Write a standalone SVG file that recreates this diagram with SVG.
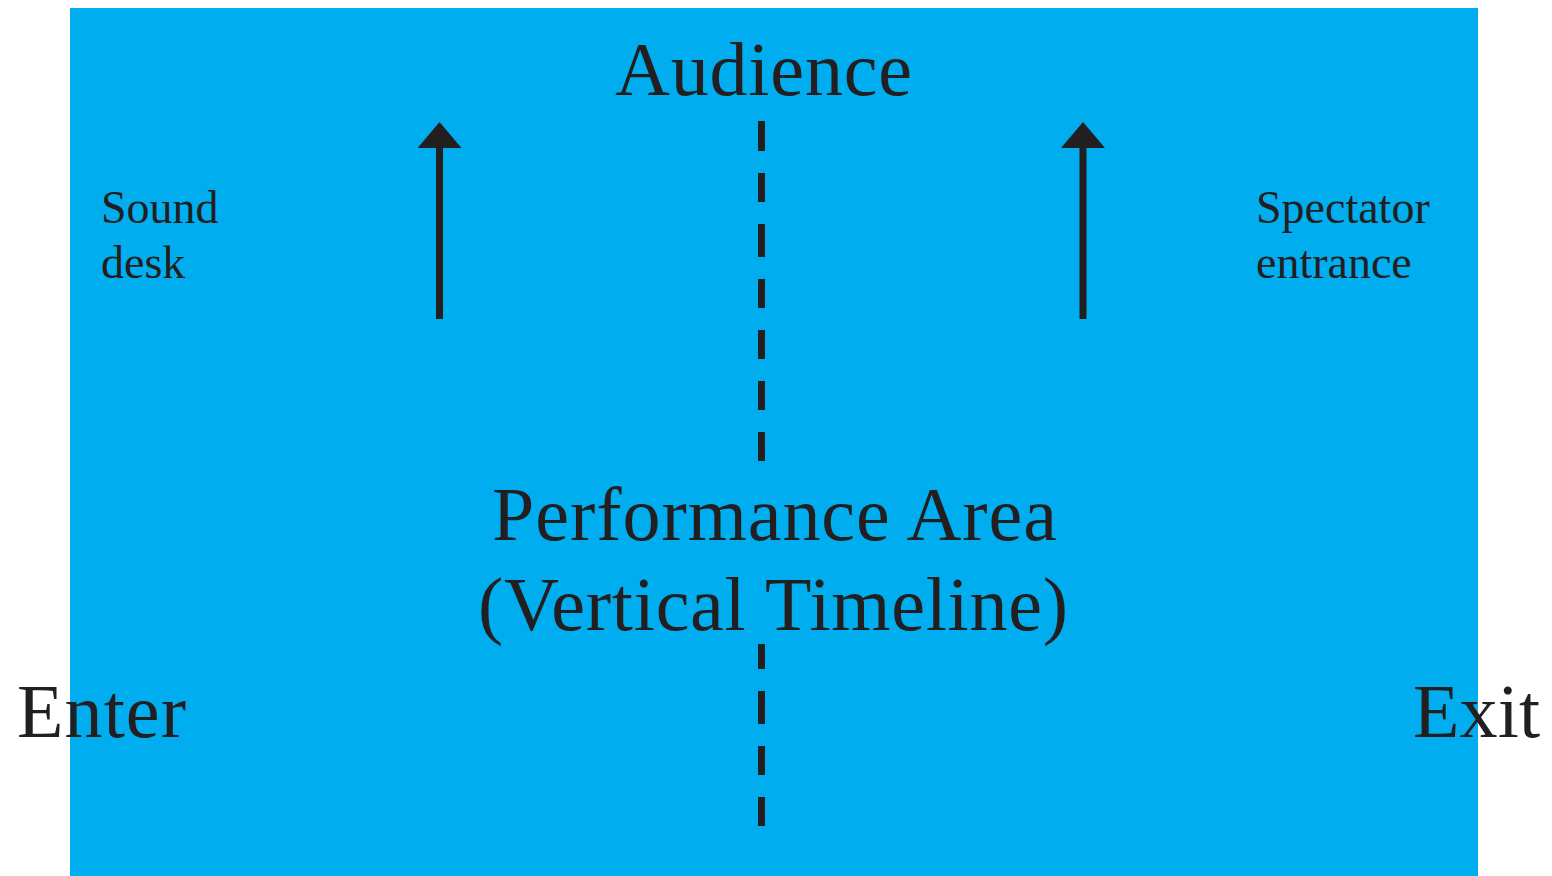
<svg xmlns="http://www.w3.org/2000/svg" width="1552" height="876" viewBox="0 0 1552 876">
<style>
.t{font-family:"Liberation Serif","Times New Roman",serif;fill:#231F20}
.big{font-size:76px}
.small{font-size:46px}
.conn{stroke:#231F20;fill:none;stroke-width:7}
</style>
<defs>
<marker id="ah" viewBox="0 0 26 44" refX="1" refY="22" markerWidth="26" markerHeight="44" markerUnits="userSpaceOnUse" orient="auto">
<path d="M0,0 L26,22 L0,44 z" fill="#231F20"/>
</marker>
</defs>
<rect x="0" y="0" width="1552" height="876" fill="#ffffff"/>
<rect id="stage" x="70" y="8" width="1408" height="868" fill="#00AEEF"/>
<g id="connectors">
<line class="conn" x1="439.5" y1="319" x2="439.5" y2="147" marker-end="url(#ah)"/>
<line class="conn" x1="1083" y1="319" x2="1083" y2="147" marker-end="url(#ah)"/>
<path class="conn" d="M761.5,121 V151 M761.5,173 V202 M761.5,224 V257 M761.5,279 V308 M761.5,330 V359 M761.5,381 V410 M761.5,432 V461 M761.5,644 V669 M761.5,691 V724 M761.5,746 V775 M761.5,797 V826"/>
</g>
<g id="audience"><text class="t big" x="615" y="95" textLength="297" lengthAdjust="spacing">Audience</text></g>
<g id="sound-desk"><text class="t small" x="101" y="223">Sound</text><text class="t small" x="101" y="278">desk</text></g>
<g id="spectator-entrance"><text class="t small" x="1256" y="223">Spectator</text><text class="t small" x="1256" y="278">entrance</text></g>
<g id="performance-area"><text class="t big" x="492" y="540" textLength="565" lengthAdjust="spacing">Performance Area</text><text class="t big" x="478" y="630" textLength="590" lengthAdjust="spacing">(Vertical Timeline)</text></g>
<g id="enter"><text class="t big" x="17" y="737" textLength="169" lengthAdjust="spacing">Enter</text></g>
<g id="exit"><text class="t big" x="1413" y="737" textLength="127" lengthAdjust="spacing">Exit</text></g>
</svg>
